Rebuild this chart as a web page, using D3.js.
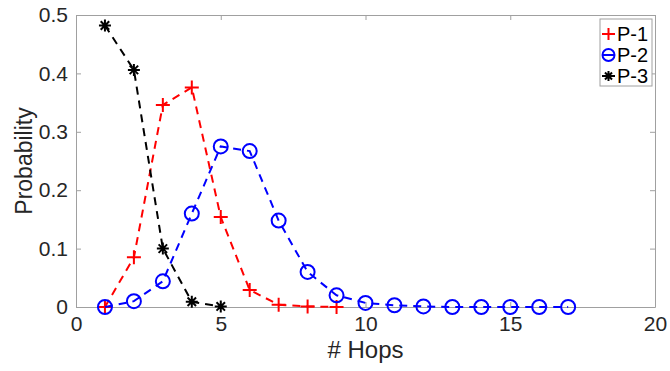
<!DOCTYPE html>
<html>
<head>
<meta charset="utf-8">
<script src="https://cdn.jsdelivr.net/npm/d3@7"></script>
<style>
body { margin: 0; background: #fff; }
text { font-family: "Liberation Sans", Arial, sans-serif; }
</style>
</head>
<body>
<script>
(function(){

//series data
var hopsP1 = [1, 2, 3, 4, 5, 6, 7, 8, 9];
var probP1 = [0.0, 0.085, 0.346, 0.376, 0.154, 0.029, 0.004, 0.001, 0.0];
var hopsP2 = [1, 2, 3, 4, 5, 6, 7, 8, 9, 10, 11, 12, 13, 14, 15, 16, 17];
var probP2 = [0.0, 0.01, 0.044, 0.16, 0.275, 0.267, 0.148, 0.06, 0.02, 0.007, 0.003, 0.001, 0.0, 0.0, 0.0, 0.0, 0.0];
var hopsP3 = [1, 2, 3, 4, 5];
var probP3 = [0.482, 0.406, 0.1, 0.009, 0.001];
var seriesNames = ["P-1", "P-2", "P-3"];
var xTicks = [0, 5, 10, 15, 20];
var yTicks = [0, 0.1, 0.2, 0.3, 0.4, 0.5];

var width = 670, height = 371;
var left = 76, right = 655, top = 15, bottom = 307;

var svg = d3.select("body").append("svg")
    .attr("width", width)
    .attr("height", height);

var x = d3.scaleLinear().domain([0, 20]).range([left, right]);
var y = d3.scaleLinear().domain([0, 0.5]).range([bottom, top]);

var axisColor = "#a0a0a0",
    textColor = "#262626";

//axes, ticks inside like matlab
var xAxis = svg.append("g")
    .attr("transform", "translate(0," + bottom + ")")
    .call(d3.axisBottom(x).tickValues(xTicks).tickSizeInner(-5).tickSizeOuter(0).tickPadding(11).tickFormat(d3.format("d")));
var xAxisTop = svg.append("g")
    .attr("transform", "translate(0," + top + ")")
    .call(d3.axisTop(x).tickValues(xTicks).tickSizeInner(-5).tickSizeOuter(0).tickFormat(""));
var yAxis = svg.append("g")
    .attr("transform", "translate(" + left + ",0)")
    .call(d3.axisLeft(y).tickValues(yTicks).tickSizeInner(-5).tickSizeOuter(0).tickPadding(8).tickFormat(function(d){ return d === 0 ? "0" : d3.format(".1f")(d); }));
var yAxisRight = svg.append("g")
    .attr("transform", "translate(" + right + ",0)")
    .call(d3.axisRight(y).tickValues(yTicks).tickSizeInner(-5).tickSizeOuter(0).tickFormat(""));

[xAxis, xAxisTop, yAxis, yAxisRight].forEach(function(g){
    g.select(".domain").attr("stroke", axisColor);
    g.selectAll(".tick line").attr("stroke", axisColor);
    g.selectAll(".tick text")
        .attr("fill", textColor)
        .style("font-size", "21px");
});
xAxis.selectAll(".tick text").attr("dy", "0.6em");

//axis labels
svg.append("text")
    .attr("x", (left + right) / 2)
    .attr("y", 358)
    .attr("text-anchor", "middle")
    .attr("fill", textColor)
    .style("font-size", "24px")
    .text("# Hops");

svg.append("text")
    .attr("transform", "translate(32," + ((top + bottom) / 2) + ") rotate(-90)")
    .attr("text-anchor", "middle")
    .attr("fill", textColor)
    .style("font-size", "23px")
    .text("Probability");

//series
var series = [
    {name: seriesNames[0], xs: hopsP1, ys: probP1, color: "#ff0000", marker: "plus"},
    {name: seriesNames[1], xs: hopsP2, ys: probP2, color: "#0000ff", marker: "circle"},
    {name: seriesNames[2], xs: hopsP3, ys: probP3, color: "#000000", marker: "star"}
];

var line = d3.line()
    .x(function(d){ return x(d[0]); })
    .y(function(d){ return y(d[1]); });

function drawMarker(g, type, cx, cy, color, size){
    if (type === "plus"){
        g.append("path")
            .attr("d", "M" + (cx - size) + "," + cy + "H" + (cx + size) + "M" + cx + "," + (cy - size) + "V" + (cy + size))
            .attr("stroke", color).attr("stroke-width", 2).attr("fill", "none");
    } else if (type === "circle"){
        g.append("circle")
            .attr("cx", cx).attr("cy", cy).attr("r", size)
            .attr("stroke", color).attr("stroke-width", 2).attr("fill", "none");
    } else {
        var r = size - 1, p = "";
        for (var k = 0; k < 4; k++){
            var a = k * Math.PI / 4;
            p += "M" + (cx - r * Math.cos(a)) + "," + (cy - r * Math.sin(a)) +
                 "L" + (cx + r * Math.cos(a)) + "," + (cy + r * Math.sin(a));
        }
        g.append("path")
            .attr("d", p)
            .attr("stroke", color).attr("stroke-width", 2).attr("fill", "none");
    }
}

series.forEach(function(s){
    var pts = s.xs.map(function(v, i){ return [v, s.ys[i]]; });
    var g = svg.append("g");
    g.append("path")
        .datum(pts)
        .attr("d", line)
        .attr("fill", "none")
        .attr("stroke", s.color)
        .attr("stroke-width", 2)
        .attr("stroke-dasharray", "8,6");
    pts.forEach(function(p){
        drawMarker(g, s.marker, x(p[0]), y(p[1]), s.color, 7);
    });
});

//legend
var legend = svg.append("g");
legend.append("rect")
    .attr("x", 600).attr("y", 19)
    .attr("width", 52).attr("height", 67)
    .attr("fill", "#fff")
    .attr("stroke", axisColor);
series.forEach(function(s, i){
    var ly = 34 + i * 21;
    //short line sample behind the marker
    legend.append("line")
        .attr("x1", 602).attr("x2", 615)
        .attr("y1", ly).attr("y2", ly)
        .attr("stroke", s.color).attr("stroke-width", 2);
    drawMarker(legend, s.marker, 608.5, ly, s.color, 6);
    legend.append("text")
        .attr("x", 617).attr("y", ly)
        .attr("dy", "0.36em")
        .attr("fill", "#000")
        .style("font-size", "20px")
        .text(s.name);
});

})();
</script>
</body>
</html>
